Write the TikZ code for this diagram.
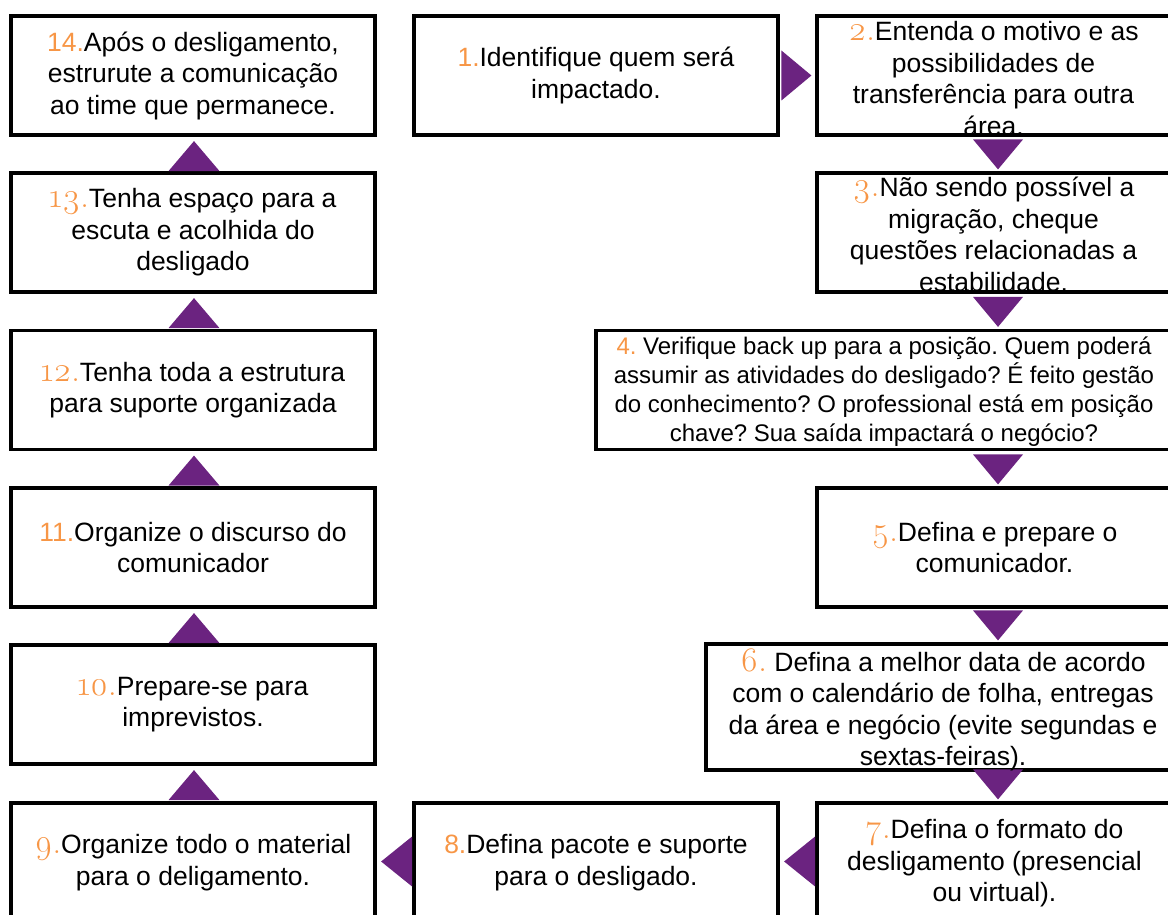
\documentclass[tikz,border=0pt]{standalone}
\usepackage{fontspec}
\setmainfont{Liberation Sans}
\newfontfamily\numfont{Latin Modern Roman}[Numbers=OldStyle, Scale=1.3]
\usetikzlibrary{calc}

\definecolor{stepnum}{RGB}{247,150,70}
\definecolor{arrowfill}{RGB}{107,35,128}
\newcommand{\nr}[1]{\textcolor{stepnum}{\numfont #1}}
\newcommand{\nrsf}[1]{\textcolor{stepnum}{#1}}

\begin{document}
\frenchspacing
\begin{tikzpicture}
        [x=1pt, y=-1pt,
        stepbox/.style={draw, line width=3.2pt, minimum width=364pt, minimum height=119pt, inner sep=0pt},
        widebox/.style={stepbox, minimum width=355pt},
        steptext/.style={align=center, inner sep=0pt, font=\fontsize{26.5}{31.5}\selectfont},
        smalltext/.style={steptext, font=\fontsize{24}{29}\selectfont},
        tri/.style={fill=arrowfill}]

        \useasboundingbox (0,0) rectangle (1168,915);
        \clip (0,0) rectangle (1168,915);

        % Left column, bottom to top
        \node[stepbox] (s14) at (193,75.5) {};
        \node[stepbox] (s13) at (193,232.5) {};
        \node[stepbox] (s12) at (193,390) {};
        \node[stepbox] (s11) at (193,547.5) {};
        \node[stepbox] (s10) at (193,704.5) {};
        \node[stepbox] (s9) at (193,862.5) {};

        % Middle column
        \node[stepbox] (s1) at (596,75.5) {};
        \node[stepbox] (s8) at (596,862.5) {};

        % Right column (runs off the page edge)
        \node[widebox] (s2) at (994.5,75.5) {};
        \node[widebox] (s3) at (994.5,232.5) {};
        \node[stepbox, minimum width=576pt] (s4) at (884,390) {};
        \node[widebox] (s5) at (994.5,547.5) {};
        \node[stepbox, minimum width=466pt, minimum height=126pt] (s6) at (939,707) {};
        \node[widebox] (s7) at (994.5,862.5) {};

        % Purple arrow heads
        \fill[tri] ($(s2.west)+(-4,0)$) -- ++(-30,-25) -- ++(0,50) -- cycle;
        \foreach \hi/\lo in {s2/s3, s3/s4, s4/s5, s5/s6, s6/s7}
            \fill[tri] ($(s2.south |- \lo.north)+(3.5,-2)$) -- ++(-25,-30) -- ++(50,0) -- cycle;
        \foreach \hi/\lo in {s8/s7, s9/s8}
            \fill[tri] ($(\hi.east)+(4.5,-1)$) -- ++(31,-25) -- ++(0,50) -- cycle;
        \foreach \lo/\hi in {s9/s10, s10/s11, s11/s12, s12/s13, s13/s14}
            \fill[tri] ($(\hi.south)+(1,4.5)$) -- ++(-25.5,30) -- ++(51,0) -- cycle;

        % Texts
        \node[steptext] (t14) at (s14) {\nrsf{14.}Após o desligamento,\\ estrurute a comunicação\\ ao time que permanece.};
        \node[steptext] (t1) at (s1) {\nrsf{1.}Identifique quem será\\ impactado.};
        \node[steptext] (t2) at ($(s2)+(-1,3)$) {\nr{2.}Entenda o motivo e as\\ possibilidades de\\ transferência para outra\\ área.};
        \node[steptext] (t3) at ($(s3)+(-1,2)$) {\nr{3.}Não sendo possível a\\ migração, cheque\\ questões relacionadas a\\ estabilidade.};
        \node[smalltext] (t4) at ($(s4)+(0,2)$) {\nrsf{4.} Verifique back up para a posição. Quem poderá\\ assumir as atividades do desligado? É feito gestão\\ do conhecimento? O professional está em posição\\ chave? Sua saída impactará o negócio?};
        \node[steptext] (t5) at (s5) {\nr{5.}Defina e prepare o\\ comunicador.};
        \node[steptext] (t6) at ($(s6)+(4,3)$) {\nr{6.} Defina a melhor data de acordo\\ com o calendário de folha, entregas\\ da área e negócio (evite segundas e\\ sextas-feiras).};
        \node[steptext] (t7) at ($(s7)+(0,1)$) {\nr{7.}Defina o formato do\\ desligamento (presencial\\ ou virtual).};
        \node[steptext] (t8) at (s8) {\nrsf{8.}Defina pacote e suporte\\ para o desligado.};
        \node[steptext] (t9) at (s9) {\nr{9.}Organize todo o material\\ para o deligamento.};
        \node[steptext] (t10) at (s10) {\nr{10.}Prepare-se para\\ imprevistos.};
        \node[steptext] (t11) at (s11) {\nrsf{11.}Organize o discurso do\\ comunicador};
        \node[steptext] (t12) at (s12) {\nr{12.}Tenha toda a estrutura\\ para suporte organizada};
        \node[steptext] (t13) at (s13) {\nr{13.}Tenha espaço para a\\ escuta e acolhida do\\ desligado};

    \end{tikzpicture}
\end{document}
